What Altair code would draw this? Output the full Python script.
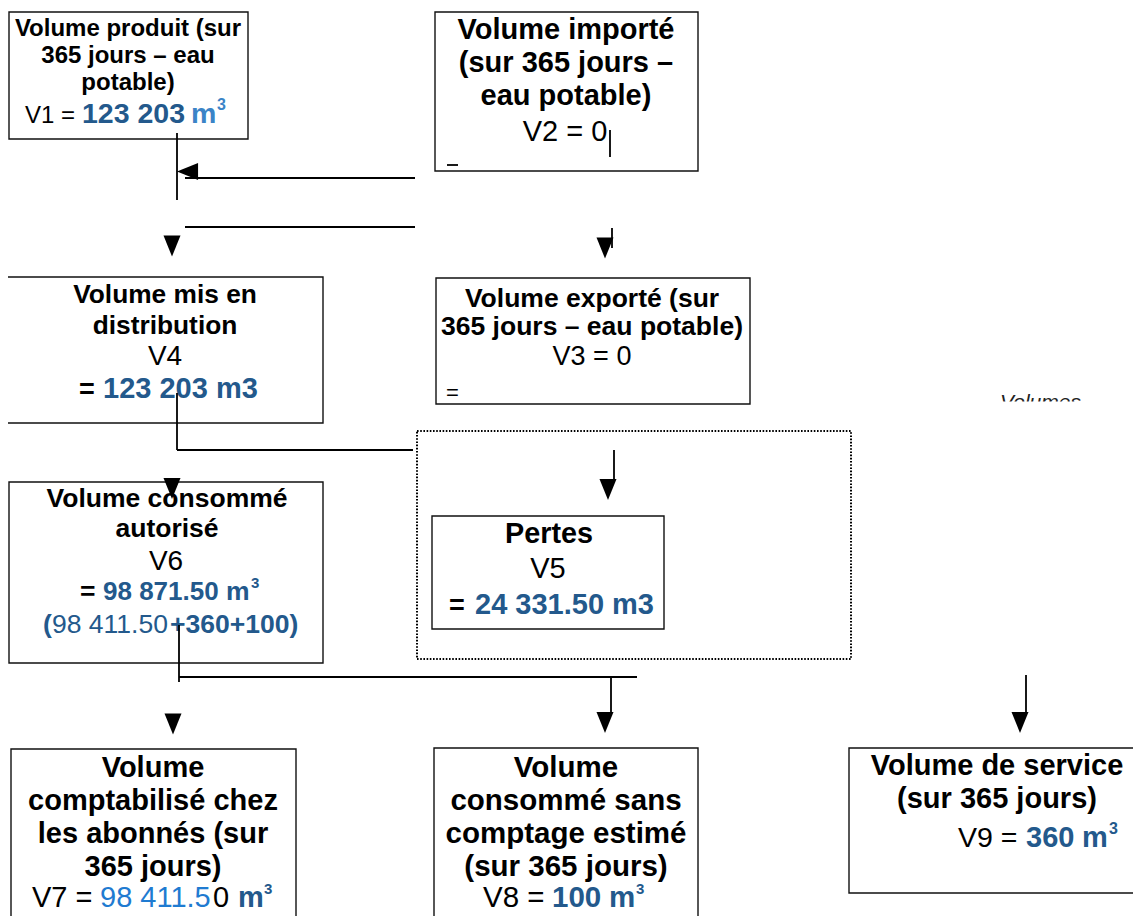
import altair as alt
import pandas as pd

FONT = "Liberation Sans, Arial, Helvetica, sans-serif"
DARK = "#23598c"
LIGHT = "#3b84c7"
BRIGHT = "#1f7bd1"
BLACK = "#000000"

# ---- boxes (left, top, right, bottom) in page pixels ----
box_x1 = [9, 435, 436, 7, 432, 9, 11, 434, 849]
box_y1 = [12, 12, 278, 277, 516, 482, 749, 748, 748]
box_x2 = [248, 698, 750, 323, 664, 323, 296, 698, 1150]
box_y2 = [139, 171, 404, 423, 629, 663, 940, 940, 893]

# dotted frame around "Pertes"
dot_x1 = [417]
dot_y1 = [431]
dot_x2 = [851]
dot_y2 = [659]

# connector lines
rule_x1 = [177, 185, 185, 610, 447, 612, 177, 177, 614, 179, 179, 611, 1026]
rule_y1 = [133, 178, 227, 130, 165, 228, 393, 450, 450, 625, 677, 676, 675]
rule_x2 = [177, 415, 415, 610, 458, 612, 177, 413, 614, 179, 637, 611, 1026]
rule_y2 = [200, 178, 227, 157, 165, 248, 450, 450, 480, 682, 677, 712, 713]

# arrow heads
down_x = [172, 605, 608, 172, 173, 605, 1020]
down_y = [246, 248, 489.5, 488.5, 724, 722.5, 722.5]
left_x = [187.5]
left_y = [171.5]

# text segments
txt = [
    # Box 1
    ("Volume produit (sur", 128, 36, 24, "bold", "normal", "center", BLACK),
    ("365 jours – eau", 128, 63, 24, "bold", "normal", "center", BLACK),
    ("potable)", 128, 90, 24, "bold", "normal", "center", BLACK),
    ("V1 =", 25, 123, 24, "normal", "normal", "left", BLACK),
    ("123 203", 82, 123, 28.5, "bold", "normal", "left", DARK),
    ("m", 191, 123, 28.5, "bold", "normal", "left", LIGHT),
    ("3", 217, 110, 16, "bold", "normal", "left", LIGHT),
    # Box 2
    ("Volume importé", 566, 39, 29, "bold", "normal", "center", BLACK),
    ("(sur 365 jours –", 566, 72, 29, "bold", "normal", "center", BLACK),
    ("eau potable)", 566, 105, 29, "bold", "normal", "center", BLACK),
    ("V2 = 0", 565, 141, 29, "normal", "normal", "center", BLACK),
    # Box 3
    ("Volume exporté (sur", 592, 307, 26.5, "bold", "normal", "center", BLACK),
    ("365 jours – eau potable)", 592, 335, 26.5, "bold", "normal", "center", BLACK),
    ("V3 = 0", 592, 365, 27, "normal", "normal", "center", BLACK),
    ("=", 446, 400, 22, "normal", "normal", "left", BLACK),
    # Box 4
    ("Volume mis en", 165, 303, 26.3, "bold", "normal", "center", BLACK),
    ("distribution", 165, 334, 26.3, "bold", "normal", "center", BLACK),
    ("V4", 165, 365, 28, "normal", "normal", "center", BLACK),
    ("=", 79, 398, 27, "bold", "normal", "left", BLACK),
    ("123 203 m3", 103, 398, 29, "bold", "normal", "left", DARK),
    # Box 5
    ("Pertes", 549, 543, 28.8, "bold", "normal", "center", BLACK),
    ("V5", 548, 578, 29, "normal", "normal", "center", BLACK),
    ("=", 449, 614, 27, "bold", "normal", "left", BLACK),
    ("24 331.50 m3", 475, 614, 29, "bold", "normal", "left", DARK),
    # Box 6
    ("Volume consommé", 167, 507, 26.5, "bold", "normal", "center", BLACK),
    ("autorisé", 167, 537, 26.5, "bold", "normal", "center", BLACK),
    ("V6", 166, 570, 28, "normal", "normal", "center", BLACK),
    ("=", 80, 600, 26.5, "bold", "normal", "left", BLACK),
    ("98 871.50", 103, 600, 26, "bold", "normal", "left", DARK),
    ("m", 226, 600, 26.5, "bold", "normal", "left", DARK),
    ("3", 251, 588, 15, "bold", "normal", "left", DARK),
    ("(", 43, 633, 26.5, "bold", "normal", "left", DARK),
    ("98 411.50", 52, 633, 26.5, "normal", "normal", "left", DARK),
    ("+360+100)", 170, 633, 26.5, "bold", "normal", "left", DARK),
    # Box 7
    ("Volume", 153, 777, 29, "bold", "normal", "center", BLACK),
    ("comptabilisé chez", 153, 810, 29, "bold", "normal", "center", BLACK),
    ("les abonnés (sur", 153, 843, 29, "bold", "normal", "center", BLACK),
    ("365 jours)", 153, 876, 29, "bold", "normal", "center", BLACK),
    ("V7 =", 32, 907, 29, "normal", "normal", "left", BLACK),
    ("98 411.5", 100, 907, 29, "normal", "normal", "left", BRIGHT),
    ("0", 213, 907, 29, "normal", "normal", "left", BLACK),
    ("m", 238, 907, 29, "bold", "normal", "left", DARK),
    ("3", 264, 894, 15, "bold", "normal", "left", DARK),
    # Box 8
    ("Volume", 566, 777, 29.5, "bold", "normal", "center", BLACK),
    ("consommé sans", 566, 810, 29.5, "bold", "normal", "center", BLACK),
    ("comptage estimé", 566, 843, 29.5, "bold", "normal", "center", BLACK),
    ("(sur 365 jours)", 566, 876, 29.5, "bold", "normal", "center", BLACK),
    ("V8 =", 483, 907, 29.5, "normal", "normal", "left", BLACK),
    ("100", 552, 907, 29.5, "bold", "normal", "left", DARK),
    ("m", 609, 907, 29.5, "bold", "normal", "left", DARK),
    ("3", 636, 894, 15, "bold", "normal", "left", DARK),
    # Box 9
    ("Volume de service", 997, 775, 29, "bold", "normal", "center", BLACK),
    ("(sur 365 jours)", 997, 808, 29, "bold", "normal", "center", BLACK),
    ("V9 =", 958, 847, 28.5, "normal", "normal", "left", BLACK),
    ("360", 1026, 847, 29, "bold", "normal", "left", DARK),
    ("m", 1082, 847, 29, "bold", "normal", "left", DARK),
    ("3", 1109, 834, 16, "bold", "normal", "left", DARK),
    # clipped label on the right
    ("Volumes", 1000, 409, 21, "normal", "italic", "left", "#222222"),
]

# white band that hides the lower half of "Volumes"
cover_x1 = [990]
cover_y1 = [401.5]
cover_x2 = [1100]
cover_y2 = [416]

xs = alt.Scale(domain=[8, 1133], nice=False, zero=False)
ys = alt.Scale(domain=[8, 916], nice=False, zero=False, reverse=True)


def rect_df(x1, y1, x2, y2):
    return pd.DataFrame({"x": x1, "y": y1, "x2": x2, "y2": y2})


def rect_enc(ch):
    return ch.encode(
        x=alt.X("x:Q", scale=xs, axis=None),
        x2="x2:Q",
        y=alt.Y("y:Q", scale=ys, axis=None),
        y2="y2:Q",
    )


dotted = rect_enc(
    alt.Chart(rect_df(dot_x1, dot_y1, dot_x2, dot_y2)).mark_rect(
        fill="white", stroke="black", strokeWidth=2, strokeDash=[1.6, 1.6]
    )
)
boxes = rect_enc(
    alt.Chart(rect_df(box_x1, box_y1, box_x2, box_y2)).mark_rect(
        fill="white", stroke="#111111", strokeWidth=1.4
    )
)
cover = rect_enc(
    alt.Chart(rect_df(cover_x1, cover_y1, cover_x2, cover_y2)).mark_rect(
        fill="white", strokeWidth=0
    )
)
rules = alt.Chart(rect_df(rule_x1, rule_y1, rule_x2, rule_y2)).mark_rule(
    color="black", strokeWidth=1.8
).encode(
    x=alt.X("x:Q", scale=xs, axis=None),
    x2="x2:Q",
    y=alt.Y("y:Q", scale=ys, axis=None),
    y2="y2:Q",
)

DOWN = "M-1,-1.24L1,-1.24L0,1.24Z"
LEFT = "M-1.24,0L1.24,-1L1.24,1Z"
downs = alt.Chart(pd.DataFrame({"x": down_x, "y": down_y})).mark_point(
    shape=DOWN, filled=True, size=289, color="black", opacity=1
).encode(x=alt.X("x:Q", scale=xs, axis=None), y=alt.Y("y:Q", scale=ys, axis=None))
lefts = alt.Chart(pd.DataFrame({"x": left_x, "y": left_y})).mark_point(
    shape=LEFT, filled=True, size=289, color="black", opacity=1
).encode(x=alt.X("x:Q", scale=xs, axis=None), y=alt.Y("y:Q", scale=ys, axis=None))

tdf = pd.DataFrame(
    txt, columns=["text", "x", "y", "size", "weight", "style", "align", "color"]
)
text_layers = []
for (w, s, a), g in tdf.groupby(["weight", "style", "align"]):
    text_layers.append(
        alt.Chart(g.reset_index(drop=True))
        .mark_text(font=FONT, fontWeight=w, fontStyle=s, align=a, baseline="alphabetic")
        .encode(
            x=alt.X("x:Q", scale=xs, axis=None),
            y=alt.Y("y:Q", scale=ys, axis=None),
            text="text:N",
            size=alt.Size("size:Q", scale=None),
            color=alt.Color("color:N", scale=None),
        )
    )

chart = (
    alt.layer(dotted, boxes, *text_layers, cover, rules, downs, lefts)
    .properties(width=1125, height=908, autosize="none", padding=0, background="white")
    .configure_view(strokeWidth=0)
)

chart.save("out.html", embed_options={"renderer": "svg", "actions": False})
